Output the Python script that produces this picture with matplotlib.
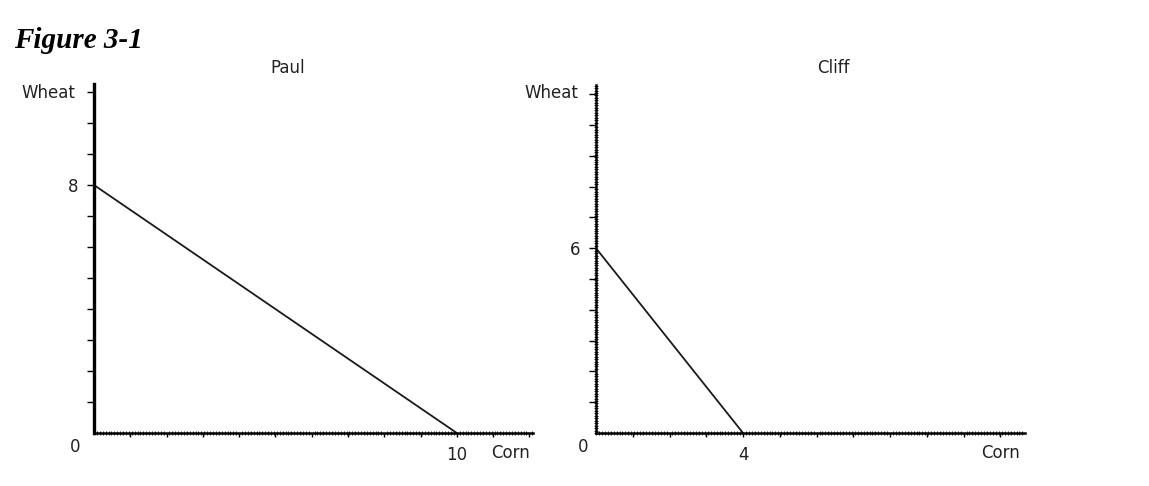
import numpy as np
import matplotlib
matplotlib.use("Agg")
import matplotlib.pyplot as plt

# production possibilities frontiers (corn, wheat)
paul_corn = [0, 10]
paul_wheat = [8, 0]
cliff_corn = [0, 4]
cliff_wheat = [6, 0]

W, H = 1149, 486
fig = plt.figure(figsize=(W / 100, H / 100), dpi=100)

small = dict(family="DejaVu Sans", fontsize=12, color="#222222")


def panel(rect, xmax, ymax, corn, wheat, xlab, ylab, solid_y):
    ax = fig.add_axes(rect)
    ax.plot(corn, wheat, color="#1a1a1a", lw=1.3, solid_capstyle="round")
    ax.set_xlim(0, xmax)
    ax.set_ylim(0, ymax)
    for s in ("top", "right"):
        ax.spines[s].set_visible(False)
    ax.spines["left"].set_linewidth(2.4 if solid_y else 1.8)
    ax.spines["bottom"].set_linewidth(1.8)

    xt = np.arange(1, int(xmax) + 1)
    yt = np.arange(1, int(ymax) + 1)
    ax.set_xticks(xt)
    ax.set_yticks(yt)
    ax.set_xticklabels([str(v) if v == xlab else "" for v in xt], **small)
    ax.set_yticklabels([str(v) if v == ylab else "" for v in yt], **small)
    ax.tick_params(axis="x", direction="out", length=3, width=1, pad=6)
    ax.tick_params(axis="y", direction="out", length=5, width=1, pad=6)

    ax.set_xticks(np.arange(0, xmax, 0.08), minor=True)
    ax.tick_params(axis="x", which="minor", direction="inout", length=2.5, width=0.6)
    if not solid_y:
        ax.set_yticks(np.arange(0, ymax, 0.08), minor=True)
        ax.tick_params(axis="y", which="minor", direction="inout", length=3, width=0.6)
    else:
        ax.tick_params(axis="y", which="minor", length=0)
    return ax


panel([94 / W, 1 - 433 / H, 439 / W, 349 / H], 12.1, 11.26,
      paul_corn, paul_wheat, 10, 8, True)
panel([596 / W, 1 - 433 / H, 429 / W, 348 / H], 11.67, 11.3,
      cliff_corn, cliff_wheat, 4, 6, False)

# labels placed in figure pixels
def ftext(x, y, s, **kw):
    fig.text(x / W, 1 - y / H, s, ha="center", va="center", **kw)

ftext(288, 68, "Paul", **small)
ftext(833, 68, "Cliff", **small)
ftext(48, 93, "Wheat", **small)
ftext(551, 93, "Wheat", **small)
ftext(511, 453, "Corn", **small)
ftext(1000, 453, "Corn", **small)
ftext(75, 447, "0", **small)
ftext(583, 447, "0", **small)

fig.text(14 / W, 1 - 40 / H, "Figure 3-1", ha="left", va="center",
         family="Liberation Serif", fontsize=21, fontweight="bold",
         fontstyle="italic")

fig.savefig("out.png", dpi=100, facecolor="white")
